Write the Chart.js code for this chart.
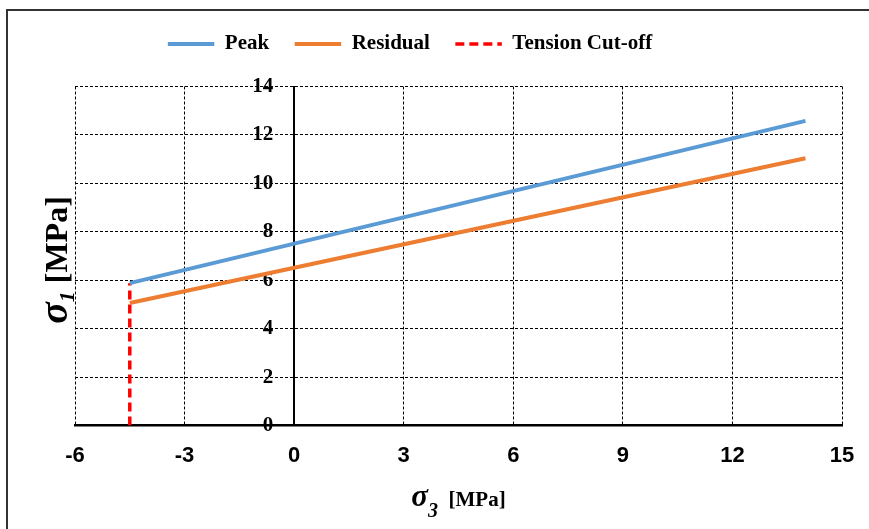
<!DOCTYPE html>
<html>
<head>
<meta charset="utf-8">
<script src="https://cdn.jsdelivr.net/npm/chart.js@4"></script>
<style>
  html, body { margin: 0; padding: 0; background: #fff; overflow: hidden; }
  #wrap { position: relative; width: 869px; height: 529px; }
  #frame { position: absolute; left: 6px; top: 9px; width: 900px; height: 560px;
           border-left: 2px solid #333; border-top: 2px solid #333; pointer-events: none; }
</style>
</head>
<body>
<div id="wrap">
  <canvas id="envelopeChart" width="869" height="529"></canvas>
  <div id="frame"></div>
</div>
<script>
// Failure envelope: sigma1 vs sigma3 (MPa)
const seriesLabels = ['Peak', 'Residual', 'Tension Cut-off'];
const peakX = [-4.5, 14];
const peakY = [5.88, 12.58];
const residualX = [-4.5, 14];
const residualY = [5.06, 11.04];
const tensionX = [-4.5, -4.5];
const tensionY = [0, 5.88];

const X_MIN = -6, X_MAX = 15, X_STEP = 3;
const Y_MIN = 0, Y_MAX = 14, Y_STEP = 2;

const colors = {
  peak: '#5B9BD5',
  residual: '#ED7D31',
  tension: '#FF0000',
  grid: '#000000',
};

const toPoints = (xs, ys) => xs.map((x, i) => ({ x, y: ys[i] }));

// axis titles have an italic sigma with a subscript, so they are drawn by hand
function drawRich(ctx, parts, cx, cy, angle) {
  ctx.save();
  ctx.translate(cx, cy);
  ctx.rotate(angle);
  let total = 0;
  parts.forEach(p => { ctx.font = p.font; p.w = ctx.measureText(p.text).width; total += p.w; });
  let x = -total / 2;
  ctx.textAlign = 'left';
  ctx.textBaseline = 'alphabetic';
  ctx.fillStyle = '#000';
  parts.forEach(p => { ctx.font = p.font; ctx.fillText(p.text, x, p.dy); x += p.w; });
  ctx.restore();
}

const axisTitles = {
  id: 'axisTitles',
  afterDraw(chart) {
    const { ctx, chartArea } = chart;
    const cx = (chartArea.left + chartArea.right) / 2;
    drawRich(ctx, [
      { text: 'σ', font: 'italic bold 31px "Liberation Serif"', dy: 0 },
      { text: '3', font: 'italic bold 20px "Liberation Serif"', dy: 11 },
      { text: '  [MPa]', font: 'bold 21px "Liberation Serif"', dy: 0 },
    ], cx, 505.5, 0);
    drawRich(ctx, [
      { text: 'σ', font: 'italic bold 40px "Liberation Serif"', dy: 0 },
      { text: '1', font: 'italic bold 22px "Liberation Serif"', dy: 7 },
      { text: ' [MPa]', font: 'bold 32px "Liberation Serif"', dy: 0 },
    ], 66.5, 260, -Math.PI / 2);
  }
};

// legend row sits left of the canvas centre, with extra room under it
const legendPlacement = {
  id: 'legendPlacement',
  beforeLayout(chart) {
    const legend = chart.legend;
    if (legend && !legend._extraRoom) {
      const fit = legend.fit.bind(legend);
      legend.fit = () => { fit(); legend.height += 22; };
      legend._extraRoom = true;
    }
  },
  afterLayout(chart) {
    chart.legend.left -= 62;
    chart.legend.right -= 62;
  }
};

const dashedGrid = {
  color: colors.grid,
  lineWidth: 1,
  drawTicks: false,
};

new Chart(document.getElementById('envelopeChart'), {
  type: 'line',
  data: {
    datasets: [
      {
        label: seriesLabels[0],
        data: toPoints(peakX, peakY),
        borderColor: colors.peak,
        backgroundColor: colors.peak,
        borderWidth: 4,
        pointRadius: 0,
      },
      {
        label: seriesLabels[1],
        data: toPoints(residualX, residualY),
        borderColor: colors.residual,
        backgroundColor: colors.residual,
        borderWidth: 4,
        pointRadius: 0,
      },
      {
        label: seriesLabels[2],
        data: toPoints(tensionX, tensionY),
        borderColor: colors.tension,
        backgroundColor: colors.tension,
        borderWidth: 3.5,
        borderDash: [9, 5],
        pointRadius: 0,
      },
    ],
  },
  options: {
    responsive: false,
    animation: false,
    layout: { padding: { left: 75, right: 0, top: 8, bottom: 43 } },
    plugins: {
      tooltip: { enabled: false },
      legend: {
        position: 'top',
        labels: {
          color: '#000',
          font: { family: '"Liberation Serif"', size: 21, weight: 'bold' },
          boxWidth: 46.5,
          boxHeight: 0,
          padding: 25.5,
        },
      },
    },
    scales: {
      x: {
        type: 'linear',
        min: X_MIN,
        max: X_MAX,
        // fixed gap between the plot and the right canvas edge
        afterFit: scale => { scale.paddingRight = 27; },
        ticks: {
          stepSize: X_STEP,
          color: '#000',
          padding: 17,
          font: { family: '"Liberation Sans"', size: 22, weight: 'bold' },
        },
        grid: { ...dashedGrid },
        border: { display: true, color: '#000', width: 2.5, dash: [3, 2] },
      },
      y: {
        min: Y_MIN,
        max: Y_MAX,
        ticks: { stepSize: Y_STEP, display: false },
        grid: { ...dashedGrid },
        border: { display: false, dash: [3, 2] },
      },
      yZero: {
        axis: 'y',
        position: { x: 0 },
        min: Y_MIN,
        max: Y_MAX,
        ticks: {
          stepSize: Y_STEP,
          color: '#000',
          // labels sit right-aligned on the axis line, trailing spaces open a gap
          callback: v => v + '    ',
          font: { family: '"Liberation Serif"', size: 21, weight: 'bold' },
        },
        grid: { display: false, drawTicks: false },
        border: { display: true, color: '#000', width: 2 },
      },
    },
  },
  plugins: [axisTitles, legendPlacement],
});
</script>
</body>
</html>
